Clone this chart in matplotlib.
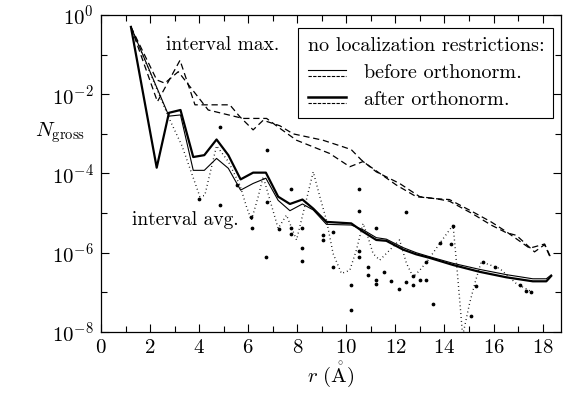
import numpy as np
import matplotlib
matplotlib.use("Agg")
import matplotlib.pyplot as plt
from matplotlib.lines import Line2D
from matplotlib.ticker import NullFormatter

plt.rcParams['font.family'] = ['cmr10', 'DejaVu Serif']
plt.rcParams['mathtext.fontset'] = 'cm'
plt.rcParams['axes.formatter.use_mathtext'] = True

# interval average, after orthonormalization (thick solid)
avg_after_r = [1.22, 2.27, 2.77, 3.24, 3.76, 4.21, 4.71, 5.19, 5.69, 6.20, 6.72, 7.22, 7.70,
               8.21, 8.65, 9.19, 10.20, 10.68, 11.22, 11.63, 12.31, 12.85, 13.40, 14.35,
               15.43, 16.52, 17.60, 18.15, 18.35]
avg_after_n = [5.0e-1, 1.4e-4, 3.4e-3, 4.0e-3, 2.6e-4, 2.9e-4, 7.2e-4, 2.9e-4, 7.1e-5, 1.05e-4,
               1.05e-4, 2.6e-5, 1.7e-5, 2.2e-5, 1.3e-5, 6.0e-6, 5.5e-6, 3.4e-6, 2.1e-6, 2.0e-6,
               1.2e-6, 9.1e-7, 7.4e-7, 4.9e-7, 3.3e-7, 2.4e-7, 1.9e-7, 1.9e-7, 2.6e-7]

# interval average, before orthonormalization (thin solid)
avg_before_r = [1.22, 2.77, 3.24, 3.76, 4.21, 4.71, 5.19, 5.69, 6.20, 6.72, 7.22, 7.70, 8.21,
                8.65, 9.19, 10.20, 10.68, 11.22, 11.63, 12.31, 12.85, 13.40, 14.35, 15.43,
                16.52, 17.60, 18.15, 18.35]
avg_before_n = [5.0e-1, 2.8e-3, 3.0e-3, 1.2e-4, 1.2e-4, 2.4e-4, 1.35e-4, 3.8e-5, 5.6e-5, 7.6e-5,
                2.1e-5, 1.15e-5, 1.7e-5, 1.2e-5, 5.2e-6, 5.0e-6, 3.8e-6, 2.4e-6, 2.2e-6, 1.35e-6,
                1.0e-6, 7.9e-7, 5.4e-7, 3.8e-7, 2.8e-7, 2.2e-7, 2.2e-7, 2.75e-7]

# interval maximum (two dashed lines)
max_a_r = [1.22, 2.30, 3.22, 3.83, 5.25, 5.66, 6.20, 6.61, 7.29, 7.83, 9.05, 9.87, 10.20, 10.61,
           11.22, 12.17, 12.99, 13.67, 14.20, 15.16, 15.90, 16.52, 17.47, 18.08, 18.31]
max_a_n = [5.0e-1, 6.5e-3, 7.2e-2, 5.4e-3, 5.4e-3, 2.7e-3, 1.26e-3, 2.2e-3, 1.6e-3, 1.0e-3,
           6.9e-4, 4.7e-4, 4.0e-4, 2.2e-4, 1.1e-4, 5.6e-5, 2.6e-5, 2.3e-5, 2.2e-5, 1.07e-5,
           6.0e-6, 3.4e-6, 1.3e-6, 1.66e-6, 8.1e-7]
max_b_r = [1.22, 2.27, 2.60, 3.15, 4.37, 5.79, 6.75, 7.29, 7.97, 9.32, 10.14, 10.68, 12.04,
           12.85, 13.67, 14.20, 15.16, 15.90, 16.52, 16.93, 17.67, 18.08, 18.31]
max_b_n = [5.0e-1, 2.3e-2, 1.9e-2, 3.7e-2, 4.0e-3, 2.45e-3, 2.45e-3, 1.38e-3, 6.9e-4, 3.2e-4,
           1.48e-4, 2.0e-4, 5.1e-5, 2.6e-5, 2.3e-5, 2.0e-5, 9.5e-6, 5.0e-6, 3.2e-6, 2.75e-6,
           1.05e-6, 1.6e-6, 7.6e-7]

# single values (dotted curve)
single_r = [1.22, 2.77, 3.30, 4.03, 4.23, 4.71, 5.19, 5.66, 5.93, 6.13, 6.40, 6.61, 7.22, 7.56,
            7.97, 8.65, 8.92, 9.19, 9.46, 9.80, 10.14, 10.41, 10.68, 10.88, 11.09, 11.36, 11.77,
            12.17, 12.45, 12.72, 12.99, 13.33, 13.80, 14.35, 14.48, 14.62, 14.74, 15.02, 15.27,
            15.50, 16.25, 16.93, 17.60]
single_n = [5.0e-1, 2.5e-3, 5.0e-4, 2.6e-5, 2.8e-5, 5.0e-4, 2.0e-4, 5.1e-5, 1.45e-5, 6.6e-6,
            2.5e-5, 8.3e-5, 4.1e-6, 8.9e-6, 2.1e-6, 1.1e-4, 2.6e-5, 6.6e-6, 9.5e-7, 3.0e-7,
            3.6e-7, 1.17e-6, 5.5e-6, 2.5e-6, 9.5e-7, 6.5e-7, 1.17e-6, 2.1e-6, 5.4e-7, 2.45e-7,
            3.6e-7, 6.5e-7, 1.7e-6, 5.0e-6, 6.5e-7, 6.3e-8, 8.0e-9, 5.2e-8, 2.0e-7, 5.9e-7,
            4.0e-7, 1.66e-7, 1.0e-7]

# scattered individual points
dots_r = [4.85, 6.75, 4.00, 4.85, 5.53, 6.13, 6.16, 6.72, 6.75, 7.25, 7.74, 7.74, 7.74, 8.20,
          8.20, 8.20, 9.03, 9.03, 9.46, 9.46, 10.18, 10.18, 10.52, 10.52, 10.52, 10.52, 10.88,
          10.88, 11.20, 11.20, 11.20, 11.52, 11.84, 12.15, 12.42, 12.45, 12.72, 12.72, 12.99,
          13.26, 13.26, 13.53, 13.80, 14.28, 14.34, 15.09, 15.30, 15.57, 16.04, 17.06, 17.33,
          17.54]
dots_n = [1.5e-3, 3.9e-4, 2.3e-5, 1.6e-5, 5.1e-5, 8.1e-6, 4.1e-6, 7.6e-7, 1.9e-5, 3.9e-6,
          4.0e-5, 4.1e-6, 2.9e-6, 4.1e-6, 1.3e-6, 6.3e-7, 2.8e-6, 2.1e-6, 3.4e-6, 4.3e-7,
          1.5e-7, 3.5e-8, 4.1e-5, 1.15e-5, 1.1e-6, 7.6e-7, 4.4e-7, 2.7e-7, 4.1e-6, 2.0e-7,
          1.6e-7, 3.3e-7, 1.95e-7, 1.25e-7, 1.07e-5, 1.85e-7, 2.6e-7, 1.5e-7, 2.0e-7, 5.9e-7,
          2.0e-7, 5.0e-8, 1.8e-6, 1.7e-6, 4.7e-6, 2.5e-8, 1.45e-7, 5.9e-7, 4.3e-7, 1.5e-7,
          1.1e-7, 1.0e-7]


class DoubleLineHandler:
    # solid line on top of a dashed one, like the legend in the original
    def __init__(self, lw):
        self.lw = lw

    def legend_artist(self, legend, orig_handle, fontsize, handlebox):
        x0, y0 = handlebox.xdescent, handlebox.ydescent
        w, h = handlebox.width, handlebox.height
        top = Line2D([x0, x0 + w], [y0 + h * 0.55] * 2, color='k', lw=self.lw)
        bot = Line2D([x0, x0 + w], [y0 + h * 0.15] * 2, color='k', lw=0.8,
                     ls=(0, (3.0, 1.2)))
        top.set_transform(handlebox.get_transform())
        bot.set_transform(handlebox.get_transform())
        handlebox.add_artist(top)
        handlebox.add_artist(bot)
        return top


fig = plt.figure(figsize=(5.69, 3.94), dpi=100)
ax = fig.add_axes([0.1775, 0.1574, 0.8085, 0.8046])

ax.plot(single_r, single_n, color='k', lw=1.0, ls=(0, (0.6, 2.2)))
ax.plot(dots_r, dots_n, ls='none', marker='o', ms=1.7, color='k')
ax.plot(max_a_r, max_a_n, color='k', lw=0.9, ls=(0, (5, 3)))
ax.plot(max_b_r, max_b_n, color='k', lw=0.9, ls=(0, (5, 3)))
ax.plot(avg_before_r, avg_before_n, color='k', lw=0.8)
ax.plot(avg_after_r, avg_after_n, color='k', lw=1.6)

ax.set_yscale('log')
ax.set_xlim(0, 18.75)
ax.set_ylim(1e-8, 1e0)
ax.set_xticks(range(0, 19, 2))
ax.set_xticks(range(1, 19, 2), minor=True)
ax.set_yticks([1e0, 1e-2, 1e-4, 1e-6, 1e-8])
ax.set_yticks([1e-1, 1e-3, 1e-5, 1e-7], minor=True)
ax.yaxis.set_minor_formatter(NullFormatter())
ax.tick_params(which='both', direction='in', top=True, right=True, labelsize=15, width=0.8)
ax.tick_params(which='major', length=6, pad=5)
ax.tick_params(which='minor', length=4)
for s in ax.spines.values():
    s.set_linewidth(0.9)

ax.set_xlabel(r'$r\ (\mathring{\mathrm{A}})$', fontsize=15, labelpad=2)
ax.set_ylabel(r'$N_{\mathrm{gross}}$', fontsize=15, rotation=0, ha='center', va='center')
ax.yaxis.set_label_coords(-0.09, 0.63)

ax.text(2.65, 10 ** -0.76, 'interval max.', fontsize=14, va='center')
ax.text(1.27, 10 ** -5.18, 'interval avg.', fontsize=14, va='center')

h1 = Line2D([], [], color='k')
h2 = Line2D([], [], color='k')
leg = ax.legend([h1, h2], ['before orthonorm.', 'after orthonorm.'],
                title='no localization restrictions:', alignment='left',
                handler_map={h1: DoubleLineHandler(0.8), h2: DoubleLineHandler(1.8)},
                loc='upper right', bbox_to_anchor=(0.983, 0.96), fontsize=14.5,
                title_fontsize=14.5, fancybox=False, framealpha=1, edgecolor='k',
                borderpad=0.45, handlelength=1.9, handletextpad=0.9, labelspacing=0.45,
                borderaxespad=0)
leg.get_frame().set_linewidth(0.8)

fig.savefig('out.png', dpi=100)
